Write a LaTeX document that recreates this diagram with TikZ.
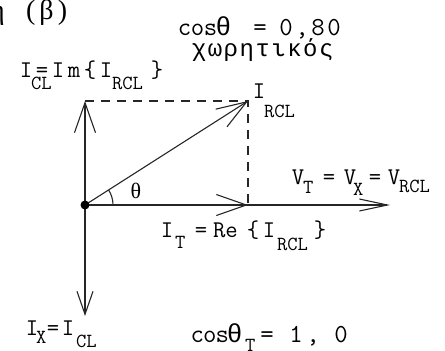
\documentclass[tikz,border=0pt]{standalone}
\usepackage{fontspec}
\usetikzlibrary{arrows.meta}
\newfontfamily\grk{Liberation Mono}
\newfontfamily\tms{Liberation Serif}
\makeatletter
\newcommand\spaced[2]{\@tfor\spch:=#2\do{\makebox[#1]{\spch}}}
\makeatother
\tikzset{
  lab/.style={inner sep=0pt, outer sep=0pt, font=\fontsize{24}{24}\selectfont\ttfamily, anchor=base},
  labw/.style={lab, anchor=base west},
  sublab/.style={inner sep=0pt, outer sep=0pt, font=\fontsize{20}{20}\selectfont\ttfamily, anchor=base west},
  bigcos/.style={inner sep=0pt, outer sep=0pt, font=\fontsize{26}{26}\selectfont\ttfamily, anchor=base west},
  ln/.style={line width=1.1pt, black!85},
  vec/.style={ln, -{Straight Barb[length=30pt,width=21pt]}},
  vecs/.style={ln, -{Straight Barb[length=23pt,width=16pt]}},
  vecn/.style={ln, -{Straight Barb[length=28pt,width=12pt]}},
  dsh/.style={ln, dash pattern=on 9pt off 7pt},
}
\begin{document}
\begin{tikzpicture}[x=1pt,y=-1pt]
\useasboundingbox (0,0) rectangle (445,351);
\clip (0,0) rectangle (445,351);
% points
\coordinate (O) at (85,205);
\coordinate (T) at (248,205);
\coordinate (E) at (390,205);
\coordinate (U) at (85,101);
\coordinate (D) at (85,316);
\coordinate (R) at (248,101);
% title
\node[anchor=base east, inner sep=0pt, font=\fontsize{28}{28}\selectfont\tms] (eta) at (5,19) {η};
\node[anchor=base west, inner sep=0pt, font=\fontsize{28}{28}\selectfont\tms] (beta) at (26,19) {(\kern4pt β\kern4pt)};
% connectors
\draw[dsh] (U) -- (R) -- (T);
\draw[vecn] (O) -- (E);
\draw[vec] (O) -- (T);
\draw[vec] (O) -- (U);
\draw[vecs] (O) -- (D);
\draw[vec] (O) -- (R);
\draw[ln] (113,205) arc[start angle=0, end angle=-32.5, radius=28];
\fill[black] (O) circle (4.5);
% cos theta = 0,80 / capacitive
\node[bigcos] (cos1) at (178,35) {\spaced{13pt}{cos{\grk θ}}};
\node[bigcos, anchor=base] (eq1) at (260,35) {=};
\node[bigcos] (val1) at (278,35) {\spaced{16pt}{0,80}};
\node[inner sep=0pt, anchor=base west, font=\fontsize{24}{24}\selectfont\grk] (cap) at (191,56) {\spaced{15.9pt}{χωρητικός}};
% I_CL = Im{I_RCL}
\node[lab] (a1) at (26,77) {I};
\node[sublab] (a2) at (31,89) {CL};
\node[lab] (a3) at (42,77) {=};
\node[labw] (a4) at (50,77) {\spaced{16pt}{Im\{I}};
\node[sublab] (a5) at (112,89) {RCL};
\node[lab] (a6) at (157,77) {\}};
% I_RCL
\node[lab] (b1) at (259,98) {I};
\node[sublab] (b2) at (264,117) {RCL};
% theta
\node[inner sep=0pt, anchor=base, font=\fontsize{22}{22}\selectfont\tms] (th) at (136,198) {θ};
% V_T = V_X = V_RCL
\node[lab] (c1) at (298,184) {V};
\node[sublab] (c2) at (303,193) {T};
\node[lab] (c3) at (329,184) {=};
\node[lab] (c4) at (350,184) {V};
\node[sublab] (c5) at (353,195) {X};
\node[lab] (c6) at (375,184) {=};
\node[lab] (c7) at (394,184) {V};
\node[sublab] (c8) at (399,192) {RCL};
% I_T = Re{I_RCL}
\node[lab] (d1) at (167,237) {I};
\node[sublab] (d2) at (175,248) {T};
\node[lab] (d3) at (201,237) {=};
\node[labw] (d4) at (213,237) {Re};
\node[labw] (d5) at (245,237) {\spaced{16pt}{\{I}};
\node[sublab] (d6) at (277,250) {RCL};
\node[lab] (d7) at (320,237) {\}};
% I_X = I_CL
\node[lab] (e1) at (32,335) {I};
\node[sublab] (e2) at (36,343) {X};
\node[lab] (e3) at (53,335) {=};
\node[lab] (e4) at (68,335) {I};
\node[sublab] (e5) at (76,347) {CL};
% cos theta_T = 1,0
\node[bigcos] (f1) at (191,342) {\spaced{12.5pt}{cos{\grk θ}}};
\node[sublab] (f2) at (245,351) {T};
\node[bigcos, anchor=base] (f3) at (267,342) {=};
\node[bigcos, anchor=base] (f4) at (296,342) {1};
\node[bigcos, anchor=base] (f5) at (313,342) {,};
\node[bigcos, anchor=base] (f6) at (341,342) {0};
\end{tikzpicture}
\end{document}
